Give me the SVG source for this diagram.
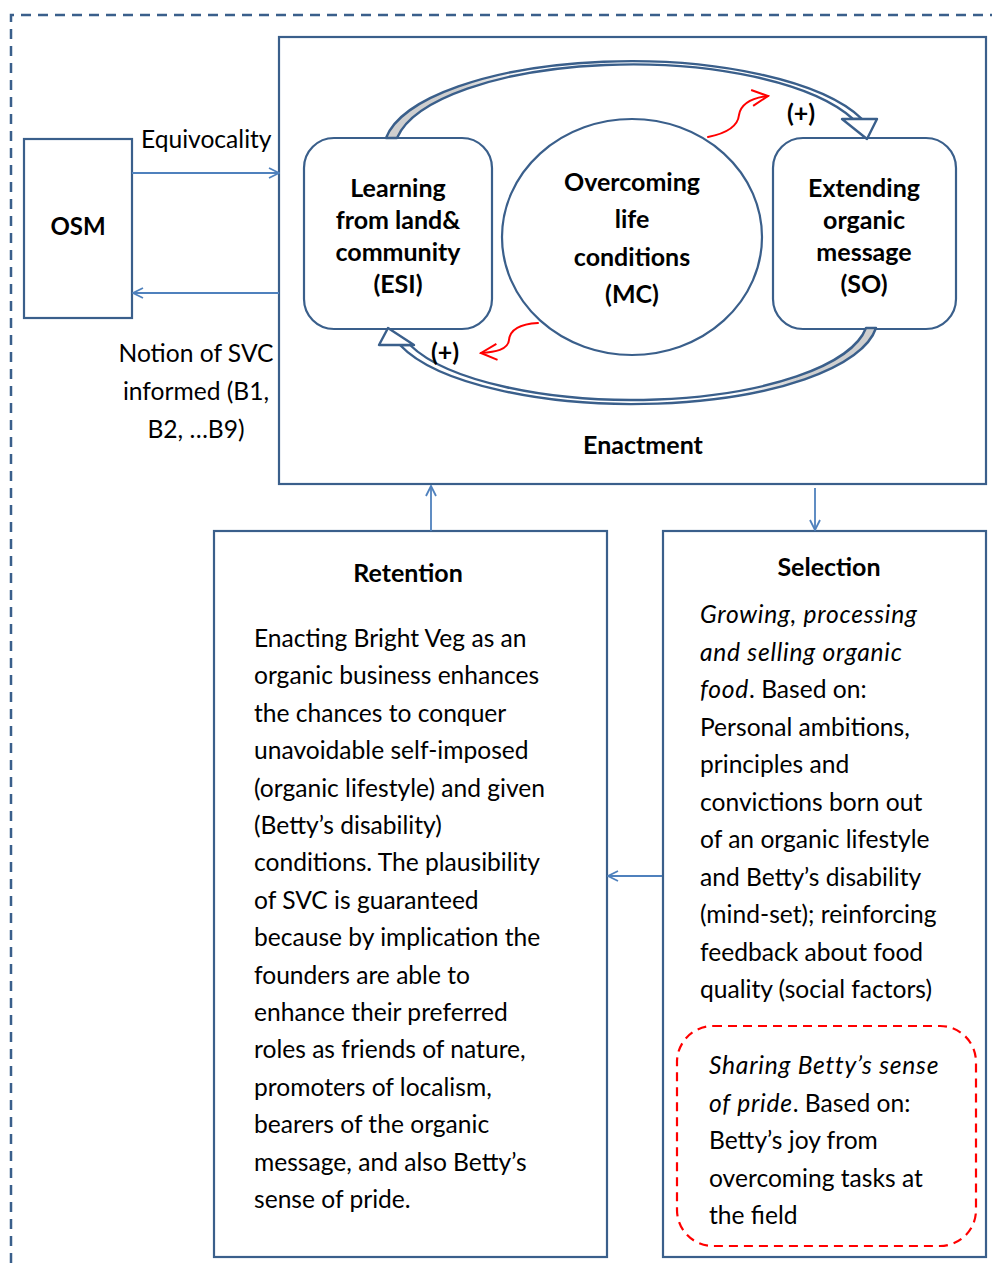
<svg xmlns="http://www.w3.org/2000/svg" width="992" height="1263" viewBox="0 0 992 1263">
  <style>
    .frame { fill: none; stroke: #3a5f8b; stroke-width: 2.5; stroke-dasharray: 10 7; }
    .box { fill: #ffffff; stroke: #3a5f8b; stroke-width: 2.2; }
    .link { fill: none; stroke: #4f81bd; stroke-width: 1.8; }
    .band { stroke: #3a5f8b; stroke-width: 2.4; stroke-linejoin: round; }
    .red { fill: none; stroke: #ff0000; stroke-width: 2; stroke-linecap: round; stroke-linejoin: round; }
    .reddash { fill: none; stroke: #ff0000; stroke-width: 2.2; stroke-dasharray: 9 6; }
    text { font-family: Lato, "Open Sans", "Liberation Sans", sans-serif; fill: #000000; }
    .t { font-size: 24.6px; }
    .b { font-size: 25px; font-weight: bold; }
    .n { font-size: 25px; font-weight: bold; }
    .c { text-anchor: middle; }
    .i { font-style: italic; letter-spacing: 0.75px; }
  </style>
  <defs>
    <marker id="open" viewBox="0 0 12 12" refX="11" refY="6" markerWidth="12" markerHeight="12" markerUnits="userSpaceOnUse" orient="auto">
      <path d="M1,1 L11,6 L1,11" fill="none" stroke="#4f81bd" stroke-width="1.8"/>
    </marker>
    <marker id="redhead" viewBox="0 0 20 20" refX="18" refY="10" markerWidth="20" markerHeight="20" markerUnits="userSpaceOnUse" orient="auto">
      <path d="M2,2 L18,10 L2,18" fill="none" stroke="#ff0000" stroke-width="2"/>
    </marker>
    <linearGradient id="shadeL" x1="386" y1="0" x2="640" y2="0" gradientUnits="userSpaceOnUse">
      <stop offset="0" stop-color="#cfcfcf"/>
      <stop offset="0.3" stop-color="#cfcfcf"/>
      <stop offset="0.55" stop-color="#ffffff"/>
    </linearGradient>
    <linearGradient id="shadeR" x1="875" y1="0" x2="620" y2="0" gradientUnits="userSpaceOnUse">
      <stop offset="0" stop-color="#cfcfcf"/>
      <stop offset="0.3" stop-color="#cfcfcf"/>
      <stop offset="0.55" stop-color="#ffffff"/>
    </linearGradient>
  </defs>

  <!-- outer dashed boundary -->
  <path class="frame" d="M11,1263 L11,15 L992,15"/>

  <!-- enactment container -->
  <g id="enactment">
    <rect class="box" x="279" y="37" width="707" height="447"/>
    <text class="b c" x="643" y="454">Enactment</text>
  </g>

  <g id="osm">
    <rect class="box" x="24" y="139" width="108" height="179"/>
    <text class="b c" x="78" y="235" style="font-size:24px">OSM</text>
  </g>

  <g id="esi">
    <rect class="box" x="304" y="138" width="188" height="191" rx="30" ry="30"/>
    <text class="n c" x="398" y="197">Learning</text>
    <text class="n c" x="398" y="229">from land&amp;</text>
    <text class="n c" x="398" y="261">community</text>
    <text class="n c" x="398" y="293">(ESI)</text>
  </g>

  <g id="mc">
    <ellipse class="box" cx="632" cy="237" rx="130" ry="118"/>
    <text class="n c" x="632" y="191">Overcoming</text>
    <text class="n c" x="632" y="228">life</text>
    <text class="n c" x="632" y="266">conditions</text>
    <text class="n c" x="632" y="303">(MC)</text>
  </g>

  <g id="so">
    <rect class="box" x="773" y="138" width="183" height="191" rx="30" ry="30"/>
    <text class="n c" x="864" y="197">Extending</text>
    <text class="n c" x="864" y="229">organic</text>
    <text class="n c" x="864" y="261">message</text>
    <text class="n c" x="864" y="293">(SO)</text>
  </g>

  <g id="retention">
    <rect class="box" x="214" y="531" width="393" height="726"/>
    <text class="b c" x="408" y="582">Retention</text>
    <text class="t" x="254" y="647">Enacting Bright Veg as an</text>
    <text class="t" x="254" y="684.4">organic business enhances</text>
    <text class="t" x="254" y="721.8">the chances to conquer</text>
    <text class="t" x="254" y="759.2">unavoidable self-imposed</text>
    <text class="t" x="254" y="796.6">(organic lifestyle) and given</text>
    <text class="t" x="254" y="834">(Betty’s disability)</text>
    <text class="t" x="254" y="871.4">conditions. The plausibility</text>
    <text class="t" x="254" y="908.8">of SVC is guaranteed</text>
    <text class="t" x="254" y="946.2">because by implication the</text>
    <text class="t" x="254" y="983.6">founders are able to</text>
    <text class="t" x="254" y="1021">enhance their preferred</text>
    <text class="t" x="254" y="1058.4">roles as friends of nature,</text>
    <text class="t" x="254" y="1095.8">promoters of localism,</text>
    <text class="t" x="254" y="1133.2">bearers of the organic</text>
    <text class="t" x="254" y="1170.6">message, and also Betty’s</text>
    <text class="t" x="254" y="1208">sense of pride.</text>
  </g>

  <g id="selection">
    <rect class="box" x="663" y="531" width="323" height="726"/>
    <text class="b c" x="829" y="576">Selection</text>
    <text class="t i" x="700" y="623">Growing, processing</text>
    <text class="t i" x="700" y="660.5">and selling organic</text>
    <text class="t" x="700" y="698"><tspan class="i">food</tspan>. Based on:</text>
    <text class="t" x="700" y="735.5">Personal ambitions,</text>
    <text class="t" x="700" y="773">principles and</text>
    <text class="t" x="700" y="810.5">convictions born out</text>
    <text class="t" x="700" y="848">of an organic lifestyle</text>
    <text class="t" x="700" y="885.5">and Betty’s disability</text>
    <text class="t" x="700" y="923">(mind-set); reinforcing</text>
    <text class="t" x="700" y="960.5">feedback about food</text>
    <text class="t" x="700" y="998">quality (social factors)</text>
  </g>

  <g id="pride">
    <rect class="reddash" x="677" y="1026" width="299" height="220" rx="36" ry="36"/>
    <text class="t i" x="709" y="1074">Sharing Betty’s sense</text>
    <text class="t" x="709" y="1111.5"><tspan class="i">of pride</tspan>. Based on:</text>
    <text class="t" x="709" y="1149">Betty’s joy from</text>
    <text class="t" x="709" y="1186.5">overcoming tasks at</text>
    <text class="t" x="709" y="1224">the field</text>
  </g>

  <!-- connectors and labels -->
  <g id="connectors">
    <line class="link" x1="132" y1="173" x2="279" y2="173" marker-end="url(#open)"/>
    <line class="link" x1="279" y1="293" x2="133" y2="293" marker-end="url(#open)"/>
    <line class="link" x1="431" y1="531" x2="431" y2="486" marker-end="url(#open)"/>
    <line class="link" x1="815" y1="488" x2="815" y2="530" marker-end="url(#open)"/>
    <line class="link" x1="662" y1="876" x2="608" y2="876" marker-end="url(#open)"/>

    <!-- upper reinforcing loop: ESI to SO -->
    <path class="band" fill="url(#shadeL)" d="M386,138 A247,89 0 0 1 862,119 L853,119 A238,87 0 0 0 397,138 Z"/>
    <path class="band" fill="#ffffff" d="M842,119 L877,119 L867,139 Z"/>

    <!-- lower reinforcing loop: SO to ESI -->
    <path class="band" fill="url(#shadeR)" d="M876,328 A245,86 0 0 1 400,345 L410,345 A236,83 0 0 0 866,328 Z"/>
    <path class="band" fill="#ffffff" d="M388,328 L379,345 L414,345 Z"/>

    <!-- influence of MC on the loops -->
    <path class="red" d="M708,137 C728,133 738,125 739,115 C741,103 752,98 768,96" marker-end="url(#redhead)"/>
    <path class="red" d="M538,323 C520,324 510,330 509,340 C508,350 495,352 481,353" marker-end="url(#redhead)"/>

    <text class="b c" x="801" y="122">(+)</text>
    <text class="b c" x="445" y="361">(+)</text>
    <text class="t" x="141" y="148">Equivocality</text>
    <text class="t c" x="196" y="362">Notion of SVC</text>
    <text class="t c" x="196" y="400">informed (B1,</text>
    <text class="t c" x="196" y="438">B2, …B9)</text>
  </g>
</svg>
